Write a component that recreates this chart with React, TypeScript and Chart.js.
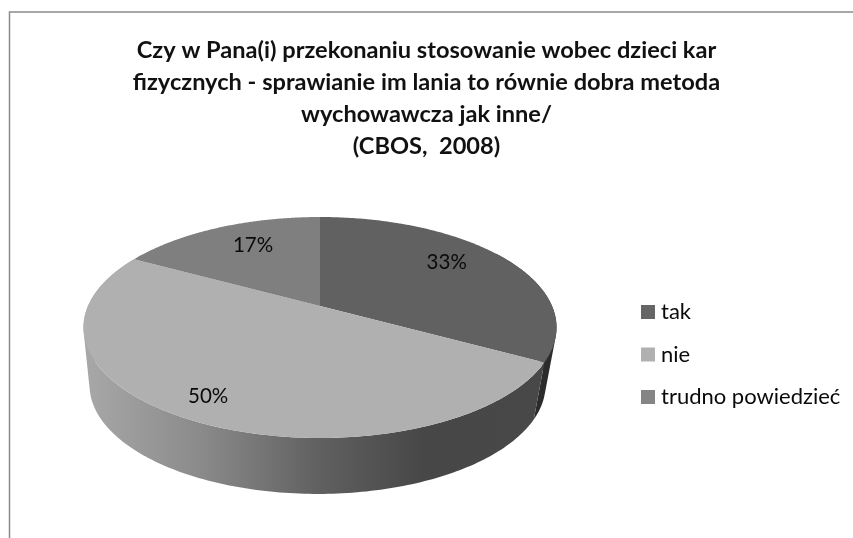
import React, { useEffect, useRef } from "react";
import { Chart, registerables } from "chart.js";

Chart.register(...registerables);

const categories = ["tak", "nie", "trudno powiedzieć"];
const shares = [33, 50, 17];
const titleLines = [
  "Czy w Pana(i) przekonaniu stosowanie wobec dzieci kar",
  "fizycznych - sprawianie im lania to równie dobra metoda",
  "wychowawcza jak inne/",
  "(CBOS,  2008)",
];
const topColors = ["#616161", "#b0b0b0", "#7f7f7f"];
const legendColors = ["#666666", "#b0b0b0", "#858585"];
const labelNudges = [
  [-4, -8],
  [-23, 16],
  [7, -3],
];

// Projection of the tilted disc onto the page
const APEX_X = 320;
const APEX_Y = 306;
const SCALE_X = 232;
const SCALE_Y = 106.3;
const TILT = 0.1945;
const RIM_CX = 320.5;
const RIM_CY = 327.5;
const BASE_CX = 318;
const BASE_CY = 385;
const BASE_SX = 0.964;
const BASE_SY = 0.986;
const LEGEND_PADDING = 20.5;

const FONT = "Lato, Carlito, 'Open Sans', sans-serif";

function project(angle: number, r = 1): [number, number] {
  const u = Math.cos(angle) * r;
  const v = Math.sin(angle) * r;
  const w = 1 - TILT * v;
  return [APEX_X + (SCALE_X * u) / w, APEX_Y + (SCALE_Y * v) / w];
}

function base(angle: number): [number, number] {
  const [x, y] = project(angle);
  return [BASE_CX + (x - RIM_CX) * BASE_SX, BASE_CY + (y - RIM_CY) * BASE_SY];
}

// The wall is swept strip by strip, every strip wound the same way, so one fill covers the silhouette without seams.
function fillWall(ctx: CanvasRenderingContext2D, a0: number, a1: number, style: any) {
  const n = 180;
  ctx.fillStyle = style;
  ctx.beginPath();
  for (let i = 0; i < n; i++) {
    const s = a0 + ((a1 - a0) * i) / n;
    const e = a0 + ((a1 - a0) * (i + 1)) / n;
    const q = [project(s), project(e), base(e), base(s)];
    let area = 0;
    for (let k = 0; k < 4; k++) {
      const [ax, ay] = q[k];
      const [bx, by] = q[(k + 1) % 4];
      area += ax * by - bx * ay;
    }
    if (area < 0) q.reverse();
    ctx.moveTo(q[0][0], q[0][1]);
    ctx.lineTo(q[1][0], q[1][1]);
    ctx.lineTo(q[2][0], q[2][1]);
    ctx.lineTo(q[3][0], q[3][1]);
    ctx.closePath();
  }
  ctx.fill("nonzero");
}

const disc3d = {
  id: "disc3d",
  afterLayout(chart: any) {
    const l = chart.legend;
    const dx = 646 - LEGEND_PADDING - l.left;
    const dy = 354.5 - (l.top + l.bottom) / 2;
    l.left += dx;
    l.right += dx;
    l.top += dy;
    l.bottom += dy;
  },
  beforeDraw(chart: any) {
    const ctx = chart.ctx;
    ctx.save();
    ctx.fillStyle = "#ffffff";
    ctx.fillRect(0, 0, 853, 538);
    ctx.strokeStyle = "#8c8c8c";
    ctx.lineWidth = 1.5;
    ctx.beginPath();
    ctx.moveTo(9.5, 538);
    ctx.lineTo(9.5, 12);
    ctx.lineTo(853, 12);
    ctx.stroke();
    ctx.restore();
  },
  beforeDatasetDraw() {
    return false;
  },
  afterDatasetsDraw(chart: any) {
    const ctx = chart.ctx;
    const arcs = chart.getDatasetMeta(0).data;
    ctx.save();

    // side walls of the two slices that face the viewer
    const grad = ctx.createLinearGradient(84, 0, 556, 0);
    grad.addColorStop(0, "#a8a8a8");
    grad.addColorStop(0.25, "#8a8a8a");
    grad.addColorStop(0.5, "#606060");
    grad.addColorStop(0.72, "#474747");
    grad.addColorStop(1, "#484848");
    fillWall(ctx, arcs[0].startAngle + 1.0, arcs[0].endAngle, "#2c2c2c");
    fillWall(ctx, arcs[1].startAngle, arcs[1].endAngle, grad);

    // top faces
    arcs.forEach((arc: any, i: number) => {
      ctx.beginPath();
      ctx.moveTo(APEX_X, APEX_Y);
      const n = 160;
      for (let k = 0; k <= n; k++) {
        const [x, y] = project(arc.startAngle + ((arc.endAngle - arc.startAngle) * k) / n);
        ctx.lineTo(x, y);
      }
      ctx.closePath();
      ctx.fillStyle = topColors[i];
      ctx.fill();
    });

    // percentage labels
    ctx.fillStyle = "#0a0a0a";
    ctx.font = `20.5px ${FONT}`;
    ctx.textAlign = "center";
    ctx.textBaseline = "middle";
    arcs.forEach((arc: any, i: number) => {
      const [x, y] = project((arc.startAngle + arc.endAngle) / 2, 0.7);
      ctx.fillText(`${shares[i]}%`, x + labelNudges[i][0], y + labelNudges[i][1]);
    });
    ctx.restore();
  },
};

export default function App() {
  const ref = useRef<HTMLCanvasElement | null>(null);
  useEffect(() => {
    const chart = new Chart(ref.current as HTMLCanvasElement, {
      type: "pie",
      data: {
        labels: categories,
        datasets: [{ data: shares, backgroundColor: legendColors, borderWidth: 0 }],
      },
      options: {
        animation: false,
        responsive: false,
        layout: { padding: 0 },
        plugins: {
          tooltip: { enabled: false },
          title: {
            display: true,
            text: titleLines,
            color: "#111111",
            font: { family: FONT, size: 23.6, weight: "bold", lineHeight: 1.362 },
            padding: { top: 34, bottom: 10 },
          },
          legend: {
            position: "right",
            labels: {
              color: "#0a0a0a",
              font: { family: FONT, size: 22 },
              usePointStyle: true,
              pointStyle: "rect",
              boxWidth: 4,
              boxHeight: 14,
              padding: LEGEND_PADDING,
            },
          },
        },
      },
      plugins: [disc3d],
    } as any);
    return () => chart.destroy();
  }, []);
  return (
    <div style={{ position: "fixed", left: 0, top: 0, width: 853, height: 538, background: "#fff" }}>
      <canvas ref={ref} width={853} height={538} style={{ display: "block" }} />
    </div>
  );
}
